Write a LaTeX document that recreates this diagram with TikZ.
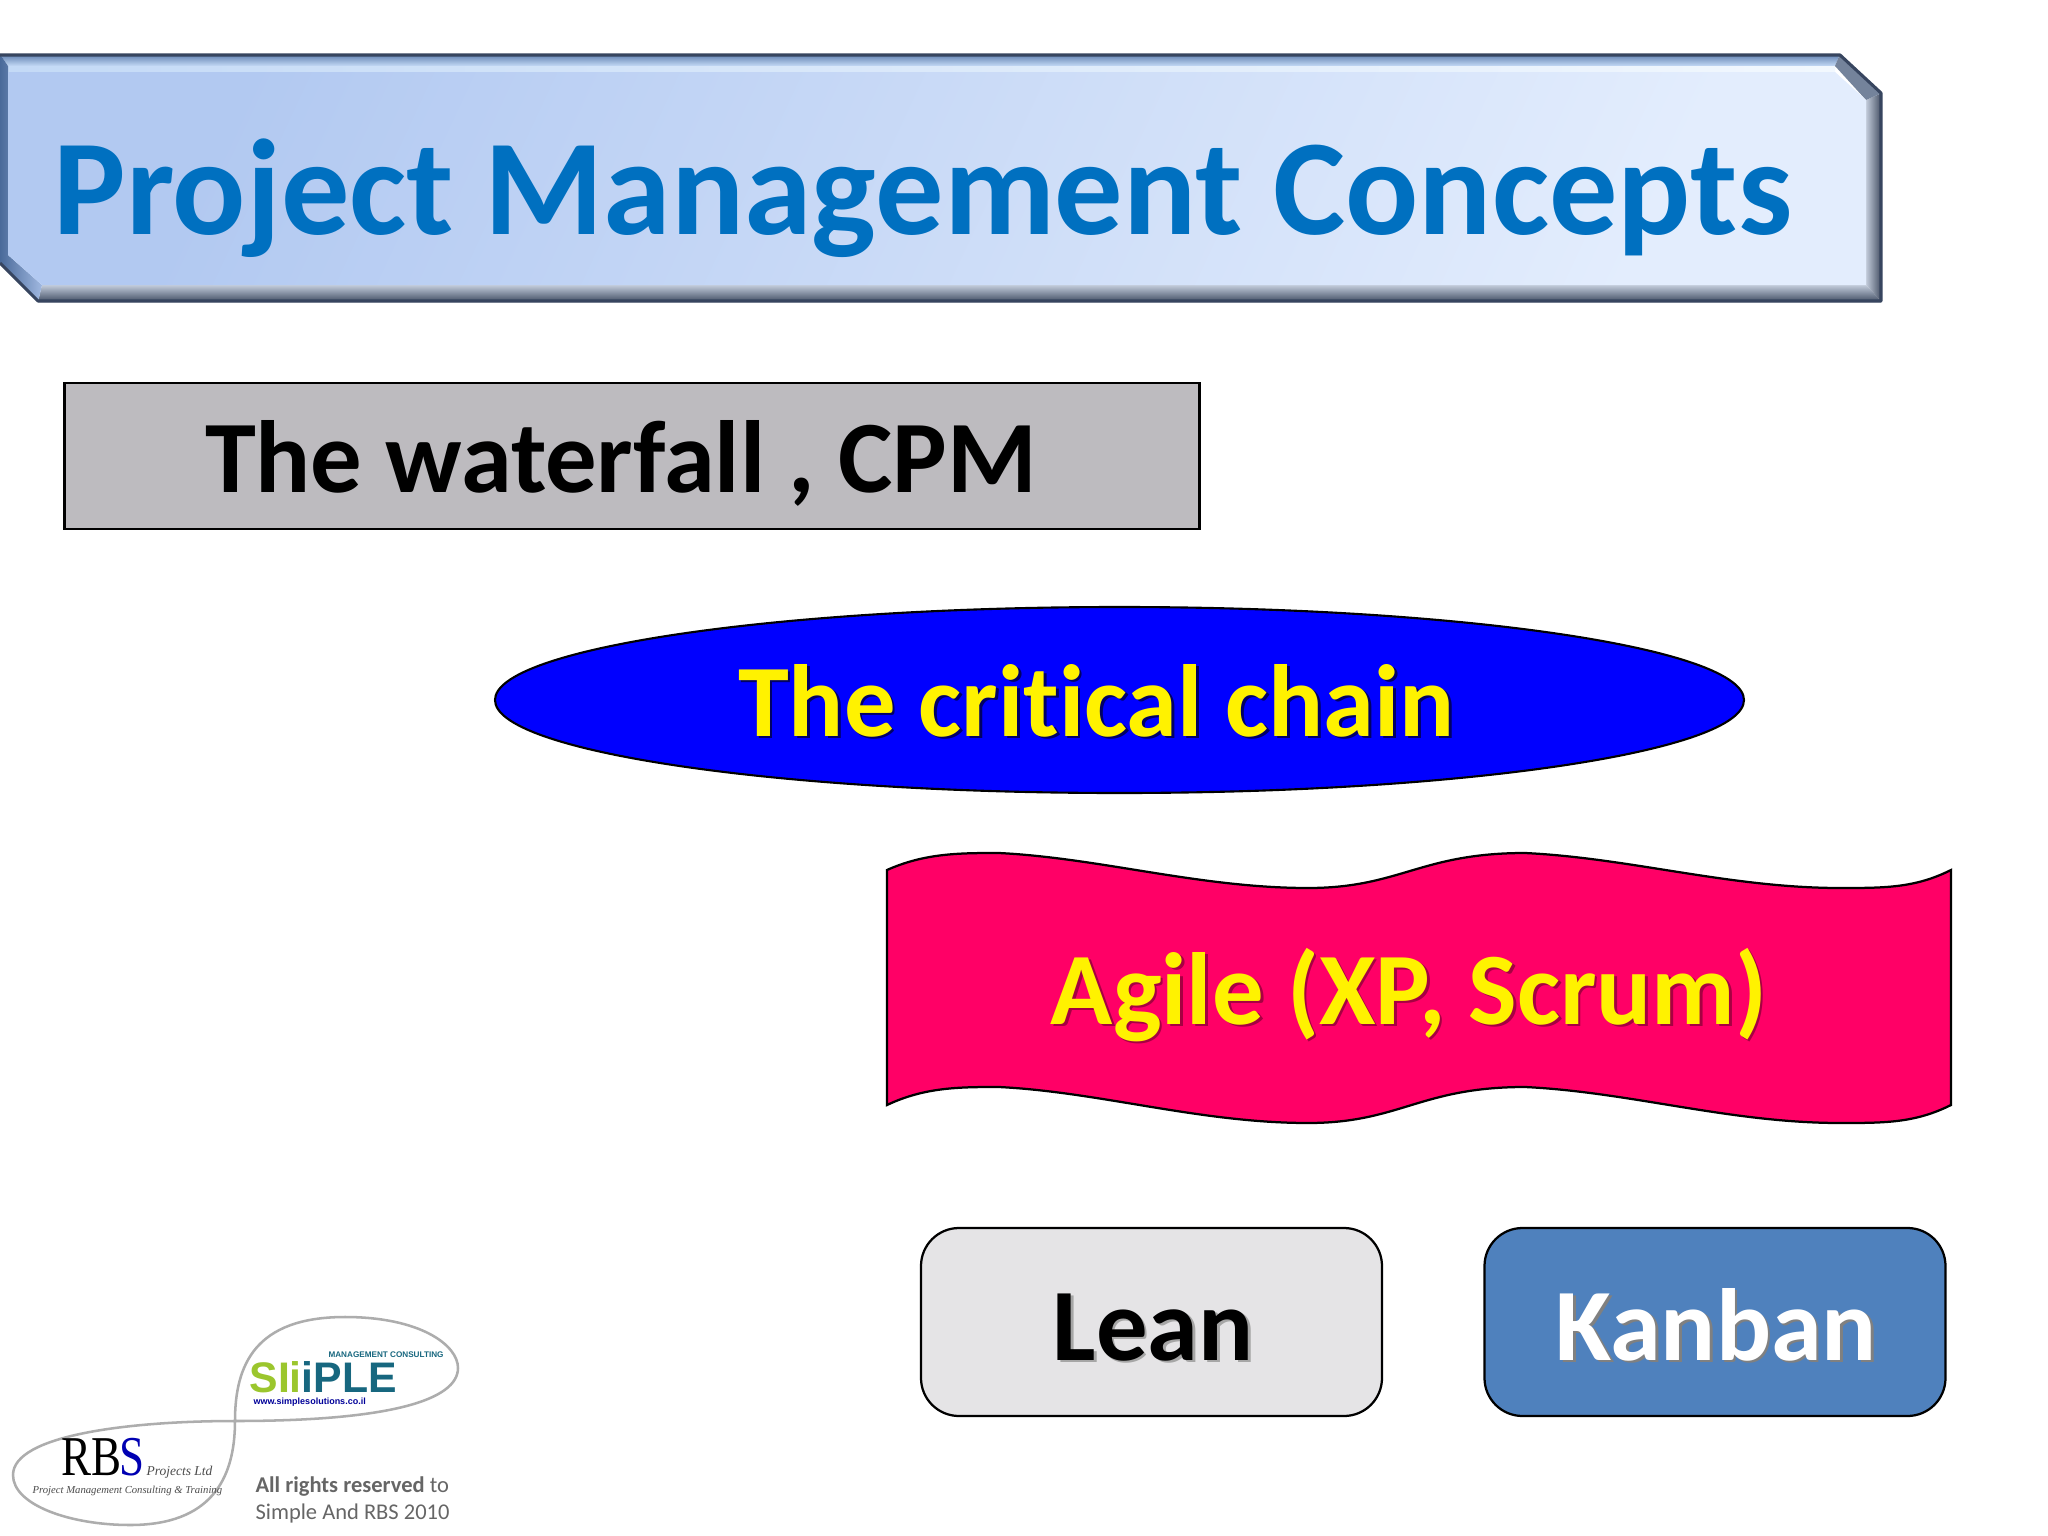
\documentclass[tikz,border=0pt]{standalone}
\usepackage{fontspec}
\usetikzlibrary{shapes.geometric}
\setmainfont{Carlito}[Ligatures=NoCommon]
\newfontfamily\logoserif{Liberation Serif}
\newfontfamily\logosans{Liberation Sans}
\def\px{0.0125cm}
\def\softshadow#1#2{\leavevmode\rlap{\hspace{1pt}\raisebox{-1pt}{\color{#1}#2}}#2}
\definecolor{titleblue}{HTML}{0070C0}
\definecolor{greybox}{HTML}{BDBBBF}
\definecolor{chainblue}{HTML}{0000FF}
\definecolor{wavepink}{HTML}{FF0066}
\definecolor{leangrey}{HTML}{E5E4E6}
\definecolor{kanbanblue}{HTML}{4F81BD}
\definecolor{edgedark}{HTML}{37455F}
\definecolor{logogreen}{HTML}{9BC62D}
\definecolor{logoteal}{HTML}{17677F}
\definecolor{topleft}{HTML}{C4DAF6}
\definecolor{topright}{HTML}{F2F8FE}
\definecolor{bandblue}{HTML}{5F7FAF}
\definecolor{lowtop}{HTML}{C2CBDA}
\definecolor{lowend}{HTML}{3F4C62}
\definecolor{sideend}{HTML}{3F4A5E}
\definecolor{slopegrey}{HTML}{74839B}
\definecolor{leftedge}{HTML}{4A6A9A}
\definecolor{leftface}{HTML}{A0B8E0}
\definecolor{facetop}{HTML}{B2C9F1}
\definecolor{faceend}{HTML}{E3EDFD}
\tikzset{
  bigtext/.style={font=\fontsize{36.5}{40}\selectfont\bfseries,anchor=base},
  logoshape/.style={draw=black!32,line width=.9pt},
  roundbox/.style={draw=black,line width=.8pt,rounded corners=38*\px,minimum width=461*\px,minimum height=188*\px}
}
\begin{document}
\begin{tikzpicture}[x=\px,y=-\px]
\useasboundingbox (0,0) rectangle (2048,1536);
\fill[white] (0,0) rectangle (2048,1536);
%
% title plate
\shade[top color=bandblue,bottom color=topleft] (0,54) -- (1840,54) -- (1835,66) -- (8,66) -- cycle;
\shade[left color=topleft,right color=topright] (8,66) -- (1835,66) -- (1835,72) -- (8,72) -- cycle;
\shade[top color=lowtop,bottom color=lowend] (42,285) -- (1866,285) -- (1882,302) -- (38,302) -- cycle;
\shade[left color=lowtop,right color=sideend] (1866,100) -- (1882,93) -- (1882,302) -- (1866,285) -- cycle;
\fill[slopegrey] (1840,54) -- (1882,93) -- (1866,100) -- (1835,66) -- cycle;
\shade[left color=leftedge,right color=leftface] (0,54) -- (8,66) -- (8,255) -- (42,285) -- (38,302) -- (0,263) -- cycle;
\shade[top color=facetop,bottom color=faceend,shading angle=65] (8,72) -- (1835,72) -- (1866,100) -- (1866,285) -- (42,285) -- (8,255) -- cycle;
\draw[edgedark,line width=1.1pt,line join=round] (0,55) -- (1840,55) -- (1881,93) -- (1881,301) -- (38,301) -- (0,263);
\node [anchor=base west,inner sep=0pt,text=titleblue,font=\fontsize{48.5}{50}\selectfont\bfseries] at (53,234) (title) {Project Management Concepts};
%
\node [rectangle,draw=black,fill=greybox,line width=.75pt,minimum width=1135*\px,minimum height=146*\px] at (632,456) (waterfallbox) {};
\node [bigtext,inner sep=0pt] at (621,492) (waterfall) {The waterfall , CPM};
%
\node [ellipse,draw=black,fill=chainblue,line width=.75pt,minimum width=1249*\px,minimum height=186*\px] at (1119.5,700) (chainbox) {};
\node [bigtext,inner sep=0pt,text=yellow] at (1096.5,736) (chain) {\softshadow{black!60!chainblue}{The critical chain}};
%
\path[draw=black,fill=wavepink,line width=.8pt] (887,870) .. controls (925,853) and (960,853) .. (999,853)
   .. controls (1100,858) and (1200,888) .. (1308,888) .. controls (1400,888) and (1420,853) .. (1525,853)
   .. controls (1630,858) and (1730,888) .. (1840,888) .. controls (1885,888) and (1915,888) .. (1951,870)
   -- (1951,1105) .. controls (1915,1123) and (1885,1123) .. (1840,1123)
   .. controls (1730,1123) and (1630,1092) .. (1525,1087) .. controls (1420,1087) and (1400,1123) .. (1308,1123)
   .. controls (1200,1123) and (1100,1092) .. (999,1087) .. controls (960,1087) and (925,1087) .. (887,1105) -- cycle;
\node [bigtext,inner sep=0pt,text=yellow] at (1409,1024) (agile) {\softshadow{black!35!wavepink}{Agile (XP, Scrum)}};
%
\node [roundbox,fill=leangrey] at (1151.5,1322) (leanbox) {};
\node [roundbox,fill=kanbanblue] at (1715,1322) (kanbanbox) {};
\node [bigtext,inner sep=0pt] at (1153,1360) (lean) {\softshadow{black!35}{Lean}};
\node [bigtext,inner sep=0pt,text=white] at (1716,1360) (kanban) {\softshadow{black!50}{Kanban}};
%
% logos
\path[logoshape,fill=white] (235,1421) .. controls (235,1365) and (255,1317) .. (345,1317)
   .. controls (420,1317) and (458,1345) .. (458,1368) .. controls (458,1400) and (390,1421) .. (235,1421);
\path[logoshape,fill=white] (235,1421) .. controls (130,1421) and (13,1435) .. (13,1475)
   .. controls (13,1505) and (70,1525) .. (130,1525) .. controls (210,1525) and (235,1480) .. (235,1421);
\node [anchor=base west,inner sep=0pt,font=\logosans\fontsize{15.2}{16}\selectfont\bfseries] at (249,1392) (simple) {\textcolor{logogreen}{SIi}\textcolor{logoteal}{iPLE}};
\node [anchor=base west,inner sep=0pt,text=logoteal,font=\logosans\fontsize{2.9}{3}\selectfont\bfseries] at (328,1357) (consult) {MANAGEMENT CONSULTING};
\node [anchor=base west,inner sep=0pt,text=blue!60!black,font=\logosans\fontsize{3.2}{4}\selectfont\bfseries] at (253,1404) (www) {www.simplesolutions.co.il};
\node [anchor=base west,inner sep=0pt,font=\logoserif\fontsize{20}{22}\selectfont] at (61,1475) (rbs) {\scalebox{.8}[1]{\textcolor{black}{RB}\kern-1pt\textcolor{blue!70!black}{S}}};
\node [anchor=base west,inner sep=0pt,text=black!70,font=\logoserif\fontsize{4.8}{5}\selectfont\itshape] at (146,1475) (projects) {Projects Ltd};
\node [anchor=base west,inner sep=0pt,text=black!70,font=\logoserif\fontsize{3.8}{4}\selectfont\itshape] at (32,1493) (consulting) {Project Management Consulting \& Training};
%
\node [anchor=base west,inner sep=0pt,text=black!60,font=\fontsize{8}{10}\selectfont] at (255,1492) (rights) {\textbf{All rights reserved} to};
\node [anchor=base west,inner sep=0pt,text=black!60,font=\fontsize{8}{10}\selectfont] at (255,1519) (owners) {Simple And RBS 2010};
\end{tikzpicture}
\end{document}
